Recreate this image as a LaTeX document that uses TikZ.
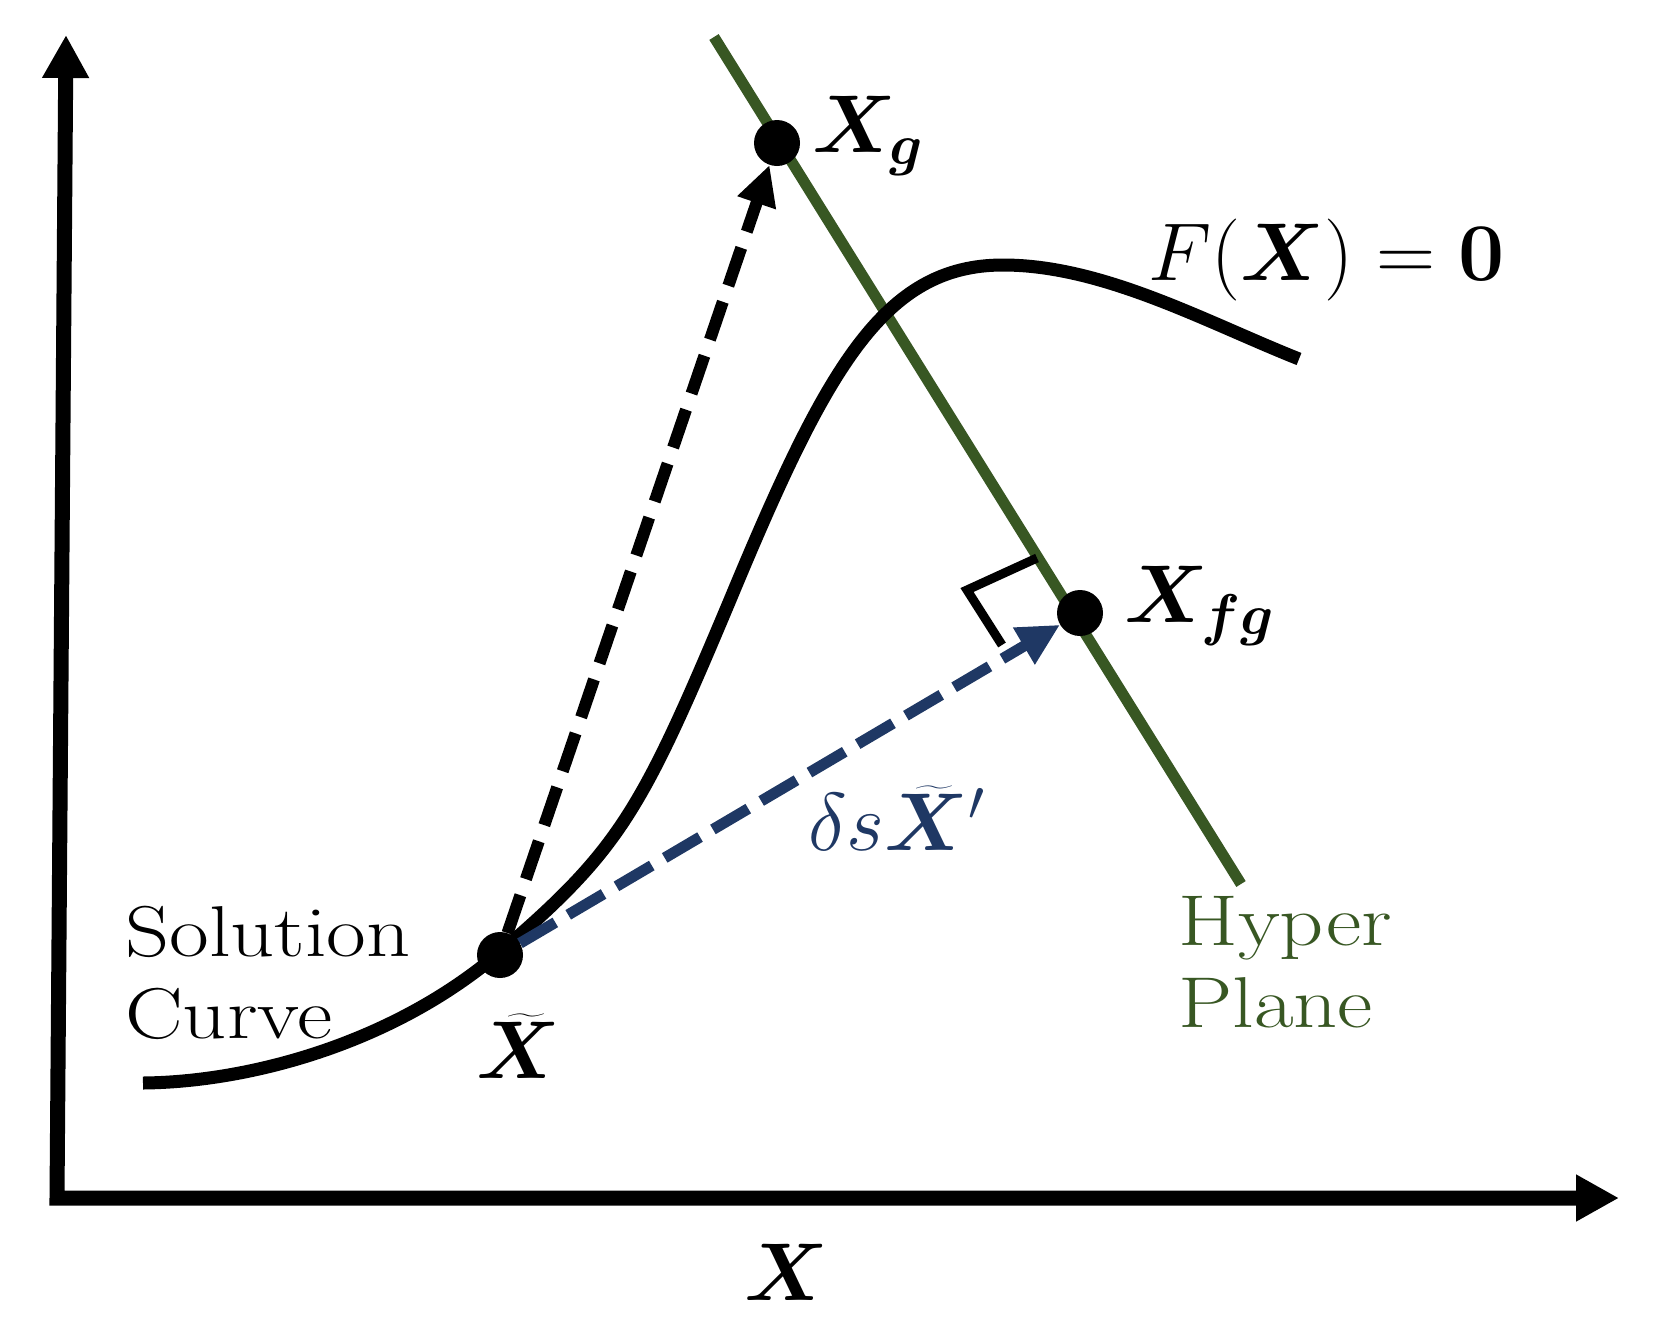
\RequirePackage{fix-cm}
\documentclass[tikz,border=0pt]{standalone}
\usepackage{amsmath,bm}
\usetikzlibrary{arrows.meta}
\definecolor{hpgreen}{RGB}{56,87,35}
\definecolor{navyblue}{RGB}{31,56,100}
\tikzset{
  axis/.style={line width=15pt, line join=miter, {Triangle[width=44pt,length=43pt]}-{Triangle[width=44pt,length=43pt]}},
  dot/.style={circle, fill=black, minimum size=46pt, inner sep=0pt},
  curveline/.style={line width=13pt},
  hyper/.style={line width=11pt, draw=hpgreen},
  dasharrow/.style={line width=12pt, dash pattern=on 40pt off 17pt, -{Triangle[width=38pt,length=40pt]}},
  bluearrow/.style={line width=11pt, draw=navyblue, dash pattern=on 41pt off 15pt, -{Triangle[width=40pt,length=42pt]}},
  mathlbl/.style={inner sep=0pt, anchor=base west, font=\fontsize{82}{90}\selectfont},
  textlbl/.style={inner sep=0pt, anchor=north west, align=left, font=\fontsize{72}{82}\selectfont},
}
\begin{document}
\begin{tikzpicture}[x=1pt,y=-1pt]
\useasboundingbox (0,0) rectangle (1656,1336);
% axes
\coordinate (ytop) at (66,35);
\coordinate (origin) at (57,1198);
\coordinate (xend) at (1619,1198);
\draw[axis] (ytop) -- (origin) -- (xend);
% hyper plane
\coordinate (h1) at (714,37);
\coordinate (h2) at (1241,884);
\draw[hyper] (h1) -- (h2);
% solution curve
\draw[curveline] (143,1083) .. controls (250,1082) and (394,1043) .. (500,952)
  .. controls (620,849) and (641,812) .. (730,600)
  .. controls (826,369) and (883,265) .. (1003,265)
  .. controls (1103,265) and (1206,322) .. (1299,359);
% points
\node[dot] (xt) at (500,955) {};
\node[dot] (xg) at (777,143) {};
\node[dot] (xfg) at (1080,613) {};
% right-angle marker
\draw[line width=9pt, line join=miter] (1037,558) -- (967,590) -- (1002,645);
% arrows
\draw[dasharrow] (xt) -- (xg);
\draw[bluearrow] (xt) -- (xfg);
% labels
\node[mathlbl] (lxg) at (812,152) {$\boldsymbol{X}_{\boldsymbol{g}}$};
\node[mathlbl] (lf) at (1148,280) {$F(\boldsymbol{X}) = \mathbf{0}$};
\node[mathlbl] (lxfg) at (1124,622) {$\boldsymbol{X}_{\boldsymbol{fg}}$};
\node[mathlbl] (lxt) at (476,1078) {$\widetilde{\boldsymbol{X}}$};
\node[mathlbl, text=navyblue] (lds) at (808,850) {$\delta s\widetilde{\boldsymbol{X}}'$};
\node[mathlbl] (lx) at (744,1300) {$\boldsymbol{X}$};
\node[textlbl] (lsol) at (125,906) {\scalebox{1.2}[1]{Solution}\\\scalebox{1.2}[1]{Curve}};
\node[textlbl, text=hpgreen] (lhyp) at (1178,896) {\scalebox{1.2}[1]{Hyper}\\\scalebox{1.2}[1]{Plane}};
\end{tikzpicture}
\end{document}
